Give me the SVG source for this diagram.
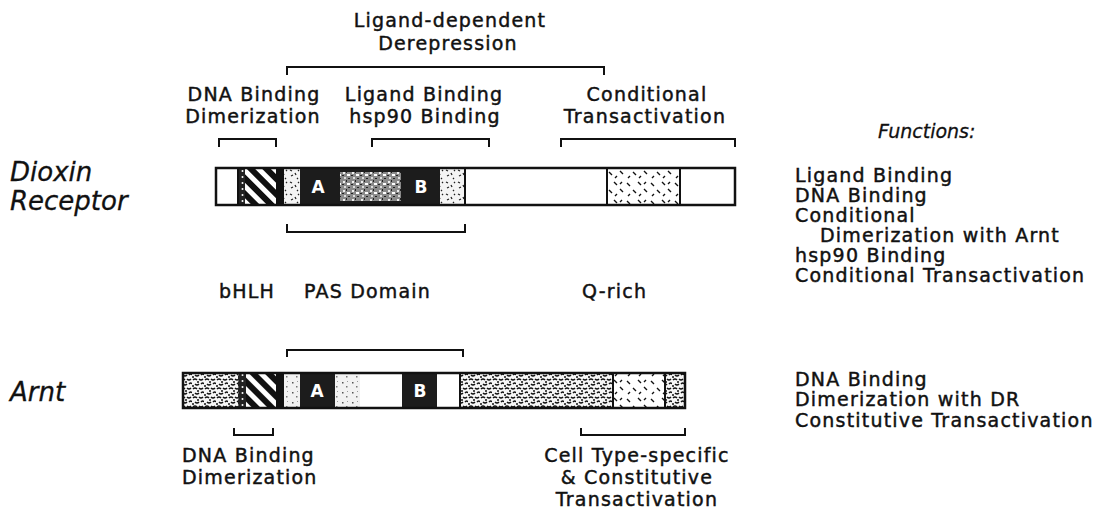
<svg xmlns="http://www.w3.org/2000/svg" width="1109" height="514" viewBox="0 0 1109 514">
<style>
.t{font-family:"DejaVu Sans",sans-serif;font-size:19px;letter-spacing:1.2px;fill:#111;stroke:#111;stroke-width:0.45}
.m{text-anchor:middle}
.big{font-family:"DejaVu Sans",sans-serif;font-size:26px;font-style:italic;fill:#111;stroke:#111;stroke-width:0.3}
.fn{font-family:"DejaVu Sans",sans-serif;font-size:19px;font-style:italic;fill:#111;stroke:#111;stroke-width:0.3}
.in{font-family:"DejaVu Sans",sans-serif;font-size:17px;font-weight:bold;fill:#fff;text-anchor:middle}
.br{fill:none;stroke:#111;stroke-width:2}
.bd{fill:none;stroke:#111;stroke-width:2.5}
.sep{stroke:#111;stroke-width:2}
</style>
<defs>
<pattern id="stripes" width="11" height="11" patternUnits="userSpaceOnUse" patternTransform="rotate(-45)">
<rect width="11" height="11" fill="#fff"/><rect width="6" height="11" fill="#111"/>
</pattern>
<pattern id="dots" width="5" height="6" patternUnits="userSpaceOnUse">
<rect width="5" height="6" fill="#222"/><circle cx="2.5" cy="3" r="1" fill="#fff"/>
</pattern>
<pattern id="squig" width="12" height="12" patternUnits="userSpaceOnUse">
<rect width="12" height="12" fill="#f4f4f4"/>
<path d="M2 2 l2 1 M7 5 l1 2 M3 8 l2 -1 M9 10 l1 1 M10 2 l1 1" stroke="#222" stroke-width="1.3" fill="none"/>
</pattern>
<pattern id="speck" width="9" height="9" patternUnits="userSpaceOnUse">
<rect width="9" height="9" fill="#8a8a8a"/>
<rect x="1" y="1" width="2" height="2" fill="#eee"/><rect x="5" y="3" width="3" height="2" fill="#fff"/>
<rect x="2" y="6" width="2" height="2" fill="#ddd"/><rect x="6" y="7" width="2" height="1" fill="#222"/>
<rect x="4" y="0" width="1" height="2" fill="#222"/><rect x="0" y="4" width="2" height="1" fill="#222"/>
</pattern>
<pattern id="hatch" width="24" height="18" patternUnits="userSpaceOnUse">
<rect width="24" height="18" fill="#fff"/>
<path d="M3 3 l3 3 M14 2 l3 3 M9 10 l3 3 M20 9 l3 3 M6 14 l-2 2 M17 14 l-2 2 M22 2 l-2 2" stroke="#111" stroke-width="1.4" fill="none"/>
</pattern>
<pattern id="worm" width="12" height="9" patternUnits="userSpaceOnUse">
<rect width="12" height="9" fill="#f6f6f6"/>
<path d="M1 2 q2 -2 4 0 M7 1 q2 2 4 0 M3 6 q2 2 4 0 M9 6 q2 -2 3 0" stroke="#111" stroke-width="1.5" fill="none"/>
<circle cx="6" cy="4" r="1" fill="#111"/><circle cx="1" cy="8" r="1" fill="#111"/>
</pattern>
<pattern id="light" width="10" height="10" patternUnits="userSpaceOnUse">
<rect width="10" height="10" fill="#f2f2f2"/>
<rect x="2" y="2" width="1.5" height="1.5" fill="#555"/><rect x="6" y="6" width="1.5" height="1.5" fill="#777"/><rect x="7" y="1" width="1" height="1" fill="#999"/>
</pattern>
</defs>
<rect width="1109" height="514" fill="#fff"/>

<g id="top-labels">
<text class="t m" x="450" y="27">Ligand-dependent</text>
<text class="t m" x="448" y="50">Derepression</text>
<text class="t m" x="254" y="101">DNA Binding</text>
<text class="t m" x="253" y="123">Dimerization</text>
<text class="t m" x="424" y="101">Ligand Binding</text>
<text class="t m" x="425" y="123">hsp90 Binding</text>
<text class="t m" x="647" y="101">Conditional</text>
<text class="t m" x="645" y="123">Transactivation</text>
<text class="fn" x="878" y="138">Functions:</text>
</g>

<g id="connectors">
<path class="br" d="M287 75 V67 H604 V75"/>
<path class="br" d="M219 147 V139 H276 V147"/>
<path class="br" d="M372 147 V139 H489 V147"/>
<path class="br" d="M561 147 V139 H735 V147"/>
<path class="br" d="M287 224 V232 H465 V224"/>
<path class="br" d="M287 357 V350 H463 V357"/>
<path class="br" d="M234 428 V435 H273 V428"/>
<path class="br" d="M581 428 V435 H685 V428"/>
</g>

<g id="dioxin-receptor">
<text class="big" x="10" y="181">Dioxin</text>
<text class="big" x="10" y="210">Receptor</text>
<rect x="216" y="168" width="519" height="37" fill="#fff"/>
<rect x="238" y="168" width="7" height="37" fill="url(#dots)"/>
<rect x="245" y="168" width="31" height="37" fill="url(#stripes)"/>
<rect x="276" y="168" width="7" height="37" fill="#111"/>
<rect x="283" y="168" width="17" height="37" fill="url(#squig)"/>
<rect x="300" y="168" width="140" height="37" fill="#1c1c1c"/>
<rect x="340" y="172" width="61" height="29" fill="url(#speck)"/>
<rect x="440" y="168" width="25" height="37" fill="url(#squig)"/>
<rect x="607" y="168" width="73" height="37" fill="url(#hatch)"/>
<line class="sep" x1="238" y1="168" x2="238" y2="205"/>
<line class="sep" x1="283" y1="168" x2="283" y2="205"/>
<line class="sep" x1="465" y1="168" x2="465" y2="205"/>
<line class="sep" x1="607" y1="168" x2="607" y2="205"/>
<line class="sep" x1="680" y1="168" x2="680" y2="205"/>
<rect class="bd" x="216" y="168" width="519" height="37"/>
<text class="in" x="318" y="193">A</text>
<text class="in" x="421" y="193">B</text>
</g>

<g id="domain-labels">
<text class="t" x="219" y="298">bHLH</text>
<text class="t" x="304" y="298">PAS Domain</text>
<text class="t" x="582" y="298">Q-rich</text>
</g>

<g id="dr-functions">
<text class="t" x="795" y="182">Ligand Binding</text>
<text class="t" x="795" y="202">DNA Binding</text>
<text class="t" x="795" y="222">Conditional</text>
<text class="t" x="820" y="242">Dimerization with Arnt</text>
<text class="t" x="795" y="262">hsp90 Binding</text>
<text class="t" x="795" y="282">Conditional Transactivation</text>
</g>

<g id="arnt">
<text class="big" x="10" y="401">Arnt</text>
<rect x="183" y="373" width="502" height="35" fill="#fff"/>
<rect x="183" y="373" width="55" height="35" fill="url(#worm)"/>
<rect x="238" y="373" width="8" height="35" fill="url(#dots)"/>
<rect x="246" y="373" width="30" height="35" fill="url(#stripes)"/>
<rect x="276" y="373" width="7" height="35" fill="#111"/>
<rect x="283" y="373" width="17" height="35" fill="url(#light)"/>
<rect x="300" y="373" width="35" height="35" fill="#1c1c1c"/>
<rect x="335" y="373" width="25" height="35" fill="url(#light)"/>
<rect x="402" y="373" width="35" height="35" fill="#1c1c1c"/>
<rect x="460" y="373" width="153" height="35" fill="url(#worm)"/>
<rect x="613" y="373" width="52" height="35" fill="url(#hatch)"/>
<rect x="665" y="373" width="20" height="35" fill="url(#worm)"/>
<line class="sep" x1="283" y1="373" x2="283" y2="408"/>
<line class="sep" x1="460" y1="373" x2="460" y2="408"/>
<line class="sep" x1="613" y1="373" x2="613" y2="408"/>
<line class="sep" x1="665" y1="373" x2="665" y2="408"/>
<rect class="bd" x="183" y="373" width="502" height="35"/>
<text class="in" x="317" y="397">A</text>
<text class="in" x="420" y="397">B</text>
</g>

<g id="arnt-functions">
<text class="t" x="795" y="386">DNA Binding</text>
<text class="t" x="795" y="406">Dimerization with DR</text>
<text class="t" x="795" y="427">Constitutive Transactivation</text>
</g>

<g id="bottom-labels">
<text class="t" x="182" y="462">DNA Binding</text>
<text class="t" x="182" y="484">Dimerization</text>
<text class="t m" x="637" y="462">Cell Type-specific</text>
<text class="t m" x="637" y="484">&amp; Constitutive</text>
<text class="t m" x="637" y="506">Transactivation</text>
</g>
</svg>
